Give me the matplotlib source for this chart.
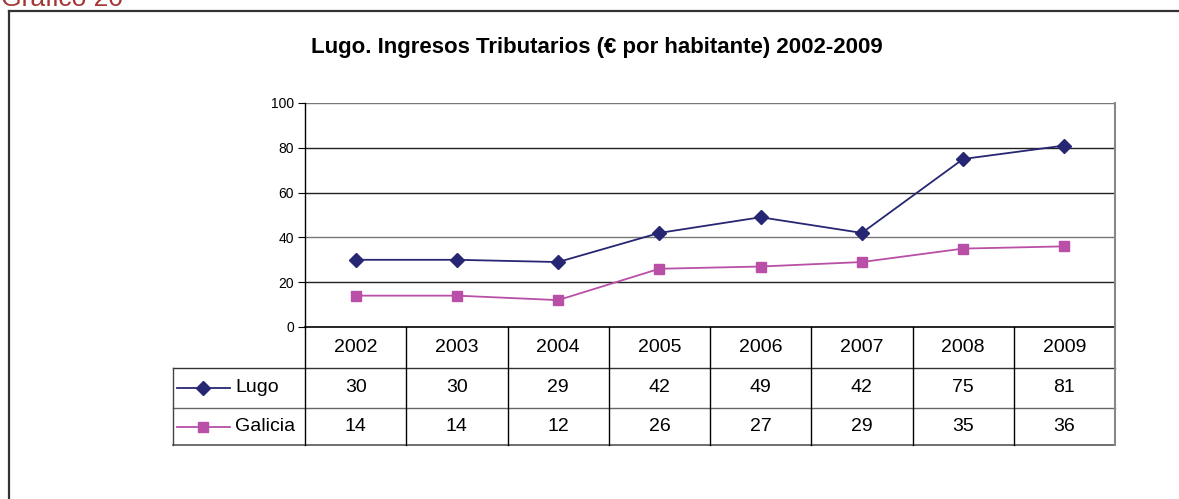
import matplotlib.pyplot as plt
import numpy as np

# datos
years = ['2002', '2003', '2004', '2005', '2006', '2007', '2008', '2009']
lugo = [30, 30, 29, 42, 49, 42, 75, 81]
galicia = [14, 14, 12, 26, 27, 29, 35, 36]
yticks = [0, 20, 40, 60, 80, 100]

C_LUGO = '#262673'
C_GAL = '#b94fa6'

plt.rcParams['font.family'] = ['Liberation Sans', 'DejaVu Sans']

W, H = 1179, 499
fig = plt.figure(figsize=(W / 100, H / 100), dpi=100)

def fx(px):
    return px / W

def fy(py):
    return 1 - py / H

# marco exterior y texto "Gráfico 20" (cortado arriba como en el original)
fig.add_artist(plt.Line2D([fx(9), fx(9)], [fy(11), 0], color='#333333', lw=1.6))
fig.add_artist(plt.Line2D([fx(9), 1], [fy(11), fy(11)], color='#333333', lw=1.6))
fig.text(fx(1), fy(6), 'Gráfico 20', color='#a33535', fontsize=19, ha='left', va='baseline')

# area del grafico
x0, x1, ytop, ybot = 305, 1115, 103, 327
ax = fig.add_axes([fx(x0), fy(ybot), fx(x1) - fx(x0), fy(ytop) - fy(ybot)])
x = np.arange(len(years))
ax.plot(x, lugo, color=C_LUGO, marker='D', markersize=7.5, lw=1.3)
ax.plot(x, galicia, color=C_GAL, marker='s', markersize=7.5, lw=1.3)
ax.set_xlim(-0.5, len(years) - 0.5)
ax.set_ylim(0, 100)
ax.set_yticks(yticks)
ax.set_xticks([])
ax.tick_params(axis='y', labelsize=10, length=5, width=0.8, pad=3)
for v in yticks[1:]:
    ax.axhline(v, color='#222222' if v not in (40, 100) else '#777777', lw=1.0, zorder=0)
ax.spines['top'].set_visible(False)
ax.spines['bottom'].set_visible(False)
ax.spines['right'].set_color('#888888')
ax.spines['right'].set_linewidth(1.5)
ax.spines['left'].set_linewidth(1.0)

fig.text(fx(597), fy(48),
         'Lugo. Ingresos Tributarios (€ por habitante) 2002-2009',
         fontsize=16, fontweight='bold', ha='center', va='center')

# tabla de datos
tl, r0, r1, r2, r3 = 173, 327, 368, 408, 445
tab = fig.add_axes([0, 0, 1, 1])
tab.set_xlim(0, W)
tab.set_ylim(H, 0)
tab.axis('off')
colw = (x1 - x0) / len(years)
tab.plot([x0, x1], [r0, r0], color='black', lw=1.2)
tab.plot([tl, x1], [r1, r1], color='#333333', lw=1.0)
tab.plot([tl, x1], [r2, r2], color='#666666', lw=1.0)
tab.plot([tl, x1], [r3, r3], color='#555555', lw=1.2)
tab.plot([tl, tl], [r1, r3], color='#444444', lw=1.0)
for i in range(len(years) + 1):
    xx = x0 + i * colw
    tab.plot([xx, xx], [r0, r3], color='#888888' if i == len(years) else 'black',
             lw=1.5 if i == len(years) else 1.0)
for i, yr in enumerate(years):
    cx = x0 + (i + 0.5) * colw
    tab.text(cx, (r0 + r1) / 2, yr, fontsize=14, ha='center', va='center')
    tab.text(cx, (r1 + r2) / 2, str(lugo[i]), fontsize=14, ha='center', va='center')
    tab.text(cx, (r2 + r3) / 2, str(galicia[i]), fontsize=14, ha='center', va='center')

# leyenda en la tabla
for (nombre, col, mk), yy in zip([('Lugo', C_LUGO, 'D'), ('Galicia', C_GAL, 's')],
                                 [(r1 + r2) / 2, (r2 + r3) / 2]):
    tab.plot([177, 230], [yy, yy], color=col, lw=1.3)
    tab.plot([203], [yy], color=col, marker=mk, markersize=7.5)
    tab.text(235, yy, nombre, fontsize=14, ha='left', va='center')

fig.savefig('out.png', dpi=100)
